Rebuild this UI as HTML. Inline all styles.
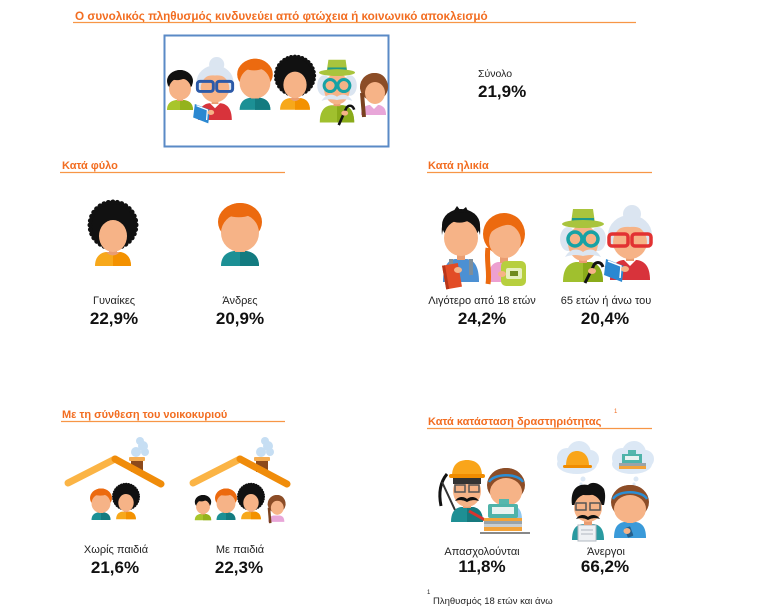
<!DOCTYPE html>
<html><head><meta charset="utf-8"><style>
html,body{margin:0;padding:0;background:#fff;}
svg{display:block;}
text{font-family:"Liberation Sans",Arial,sans-serif;}
</style></head><body>
<svg width="768" height="616" viewBox="0 0 768 616" xmlns="http://www.w3.org/2000/svg">
<rect width="768" height="616" fill="#fff"/>

<!-- Title -->
<text x="75" y="20" font-size="11.7" font-weight="bold" fill="#f26d21">Ο συνολικός πληθυσμός κινδυνεύει από φτώχεια ή κοινωνικό αποκλεισμό</text>
<line x1="73" y1="22.5" x2="636" y2="22.5" stroke="#f79646" stroke-width="1.3"/>

<rect x="164.5" y="35.5" width="224" height="111" fill="#fff" stroke="#5a8ac6" stroke-width="2"/>

<text x="478" y="77" font-size="10.5" fill="#222">Σύνολο</text>
<text x="478" y="97" font-size="17" font-weight="bold" fill="#111">21,9%</text>

<!-- Section headers -->
<text x="62" y="169" font-size="11" font-weight="bold" fill="#f26d21">Κατά φύλο</text>
<line x1="60" y1="172.5" x2="285" y2="172.5" stroke="#f79646" stroke-width="1.3"/>
<text x="428" y="169" font-size="11" font-weight="bold" fill="#f26d21">Κατά ηλικία</text>
<line x1="427" y1="172.5" x2="652" y2="172.5" stroke="#f79646" stroke-width="1.3"/>
<text x="62" y="418" font-size="11" font-weight="bold" fill="#f26d21">Με τη σύνθεση του νοικοκυριού</text>
<line x1="61" y1="421.5" x2="285" y2="421.5" stroke="#f79646" stroke-width="1.3"/>
<text x="428" y="425" font-size="11" font-weight="bold" fill="#f26d21">Κατά κατάσταση δραστηριότητας</text>
<text x="614" y="413" font-size="6" fill="#f26d21">1</text>
<line x1="427" y1="428.5" x2="652" y2="428.5" stroke="#f79646" stroke-width="1.3"/>

<!-- Labels -->
<g font-size="11" fill="#222" text-anchor="middle">
<text x="114" y="304">Γυναίκες</text>
<text x="240" y="304">Άνδρες</text>
<text x="482" y="304">Λιγότερο από 18 ετών</text>
<text x="606" y="304">65 ετών ή άνω του</text>
<text x="116" y="553">Χωρίς παιδιά</text>
<text x="240" y="553">Με παιδιά</text>
<text x="482" y="555">Απασχολούνται</text>
<text x="606" y="555">Άνεργοι</text>
</g>
<g font-size="17" font-weight="bold" fill="#111" text-anchor="middle">
<text x="114" y="324">22,9%</text>
<text x="240" y="324">20,9%</text>
<text x="482" y="324">24,2%</text>
<text x="605" y="324">20,4%</text>
<text x="115" y="573">21,6%</text>
<text x="239" y="573">22,3%</text>
<text x="482" y="572">11,8%</text>
<text x="605" y="572">66,2%</text>
</g>
<text x="427" y="594" font-size="6" fill="#222">1</text>
<text x="433" y="604" font-size="9.5" fill="#222">Πληθυσμός 18 ετών και άνω</text>

<!-- ===== Top box figures ===== -->
<g transform="translate(180,70)">
<path d="M-13 40C-13 34-10 31-4 30H4C10 31 13 34 13 40Z" fill="#a8c52b"/>
<path d="M0 30H4C10 31 13 34 13 40H0Z" fill="#94b21d"/>
<rect x="-3" y="26" width="6" height="5" fill="#e99d72"/>
<ellipse cx="0" cy="11" rx="13" ry="11" fill="#111"/>
<ellipse cx="0" cy="19" rx="11" ry="11" fill="#f6b387"/>
<path d="M-12 17C-13 5-6 0 0 0C7 0 13 5 12 17C10 11 7 9 3 9C-2 11-7 10-9 9C-11 11-12 13-12 17Z" fill="#111"/>
</g>
<g transform="translate(215,57) scale(0.84)">
<circle cx="2" cy="9" r="9" fill="#dbe5f1"/>
<ellipse cx="0" cy="30" rx="22" ry="20" fill="#dbe5f1"/>
<path d="M-20 75C-20 62-15 56-7 55H7C15 56 20 62 20 75Z" fill="#d8333b"/>
<path d="M-6 55L0 61L6 55Z" fill="#fff"/>
<rect x="-4" y="49" width="8" height="7" fill="#e99d72"/>
<ellipse cx="0" cy="37" rx="17" ry="17" fill="#f6b387"/>
<path d="M-19 33C-20 18-10 13 0 13C10 13 20 18 19 33C15 24 8 21 0 22C-8 21-15 24-19 33Z" fill="#dbe5f1"/>
<rect x="-21" y="29" width="19" height="12" rx="3" fill="none" stroke="#2c5aa8" stroke-width="3.5"/>
<rect x="2" y="29" width="19" height="12" rx="3" fill="none" stroke="#2c5aa8" stroke-width="3.5"/>
<path d="M-24 56L-6 63L-8 79L-26 72Z" fill="#2b88d1"/>
<path d="M-22 58L-9 63L-10 75" fill="none" stroke="#fff" stroke-width="1.5"/>
<ellipse cx="-5" cy="66" rx="4" ry="3" fill="#f6b387"/>
</g>
<g transform="translate(255,58) scale(0.81)">
<path d="M-19 64C-19 55-14 50-6 49H6C14 50 19 55 19 64Z" fill="#1c9095"/>
<path d="M0 49H6C14 50 19 55 19 64H0Z" fill="#137b80"/>
<rect x="-5" y="42" width="10" height="8" fill="#e99d72"/>
<ellipse cx="0" cy="20" rx="22" ry="19" fill="#ec6a0f"/>
<ellipse cx="0" cy="31" rx="19" ry="19" fill="#f6b387"/>
<path d="M-20 27C-22 8-10 1 0 1C12 1 22 8 20 27C18 18 15 14 10 13C4 16-6 16-13 13C-17 16-19 21-20 27Z" fill="#ec6a0f"/>
</g>
<g transform="translate(295,55) scale(0.83)">
<circle cx="0" cy="25" r="23" fill="#111" stroke="#111" stroke-width="5" stroke-dasharray="0.1 4.4" stroke-linecap="round"/>
<path d="M-18 66C-18 58-14 53-7 52H7C14 53 18 58 18 66Z" fill="#f7a81b"/>
<path d="M0 52H7C14 53 18 58 18 66H0Z" fill="#f39100"/>
<rect x="-4" y="46" width="8" height="7" fill="#e99d72"/>
<path d="M-7 52Q0 59 7 52Z" fill="#e99d72"/>
<ellipse cx="0" cy="36" rx="14" ry="16" fill="#f6b387"/>
</g>
<g transform="translate(337,58) scale(0.86)">
<path d="M-20 75C-20 62-15 56-7 55H7C15 56 20 62 20 75Z" fill="#a0c02e"/>
<path d="M0 55H7C15 56 20 62 20 75H0Z" fill="#8aab1a"/>
<rect x="-4" y="49" width="8" height="7" fill="#e99d72"/>
<ellipse cx="-15" cy="32" rx="8" ry="12" fill="#dbe5f1"/>
<ellipse cx="15" cy="32" rx="8" ry="12" fill="#dbe5f1"/>
<ellipse cx="0" cy="36" rx="15" ry="18" fill="#f6b387"/>
<path d="M-12 16L-10 2H10L12 16Z" fill="#a9c43d"/>
<rect x="-11" y="11" width="22" height="3" fill="#1e9a8a"/>
<ellipse cx="0" cy="17" rx="21" ry="4" fill="#a9c43d"/>
<circle cx="-8" cy="32" r="7" fill="none" stroke="#17a2a5" stroke-width="3.5"/>
<circle cx="8" cy="32" r="7" fill="none" stroke="#17a2a5" stroke-width="3.5"/>
<path d="M-18 50C-12 40-4 42 0 45C4 42 12 40 18 50C10 47 4 48 0 49C-4 48-10 47-18 50Z" fill="#dbe5f1"/>
<path d="M2 78L10 60C12 54 18 54 20 60" fill="none" stroke="#111" stroke-width="3"/>
<ellipse cx="9" cy="64" rx="4" ry="3" fill="#f6b387"/>
</g>
<g transform="translate(373,73)">
<path d="M-12 42C-12 36-9 33-4 32H6C11 33 13 36 13 42Z" fill="#e8a6d8"/>
<path d="M-3 32L1 36L5 32Z" fill="#fff"/>
<ellipse cx="1" cy="14" rx="14" ry="14" fill="#8c4d27"/>
<ellipse cx="2" cy="20" rx="10" ry="11" fill="#f6b387"/>
<path d="M-13 16C-12 5-5 0 2 0C10 0 15 6 15 16C12 10 6 8-1 9C-6 11-9 13-13 16Z" fill="#8c4d27"/>
<path d="M-11 20L-9 44" stroke="#7a4220" stroke-width="4"/>
</g>

<!-- ===== Gender ===== -->
<g transform="translate(113,200)">
<circle cx="0" cy="25" r="23" fill="#111" stroke="#111" stroke-width="5" stroke-dasharray="0.1 4.4" stroke-linecap="round"/>
<path d="M-18 66C-18 58-14 53-7 52H7C14 53 18 58 18 66Z" fill="#f7a81b"/>
<path d="M0 52H7C14 53 18 58 18 66H0Z" fill="#f39100"/>
<rect x="-4" y="46" width="8" height="7" fill="#e99d72"/>
<path d="M-7 52Q0 59 7 52Z" fill="#e99d72"/>
<ellipse cx="0" cy="36" rx="14" ry="16" fill="#f6b387"/>
</g>
<g transform="translate(240,202)">
<path d="M-19 64C-19 55-14 50-6 49H6C14 50 19 55 19 64Z" fill="#1c9095"/>
<path d="M0 49H6C14 50 19 55 19 64H0Z" fill="#137b80"/>
<rect x="-5" y="42" width="10" height="8" fill="#e99d72"/>
<ellipse cx="0" cy="20" rx="22" ry="19" fill="#ec6a0f"/>
<ellipse cx="0" cy="31" rx="19" ry="19" fill="#f6b387"/>
<path d="M-20 27C-22 8-10 1 0 1C12 1 22 8 20 27C18 18 15 14 10 13C4 16-6 16-13 13C-17 16-19 21-20 27Z" fill="#ec6a0f"/>
</g>

<!-- ===== Age ===== -->
<g transform="translate(461,208)">
<path d="M-18 74C-18 58-13 52-6 51H6C13 52 18 58 18 74Z" fill="#4c90d3"/>
<rect x="-12" y="51" width="4" height="16" fill="#7f8e99"/>
<rect x="8" y="51" width="4" height="16" fill="#7f8e99"/>
<rect x="-4" y="45" width="8" height="7" fill="#e99d72"/>
<ellipse cx="0" cy="17" rx="19" ry="16" fill="#111"/>
<ellipse cx="0" cy="30" rx="17" ry="18" fill="#f6b387"/>
<path d="M-19 27C-21 8-10 2 0 2C12 2 21 8 19 27C17 18 13 13 8 12C2 16-6 15-12 12C-16 15-18 20-19 27Z" fill="#111"/>
<path d="M-8 4L-4-2L0 3L5-1L8 5Z" fill="#111"/>
<g transform="rotate(-10 -8 68)"><rect x="-17" y="56" width="16" height="24" fill="#e24c25"/><rect x="-17" y="56" width="3" height="24" fill="#b8361a"/></g>
<ellipse cx="-3" cy="62" rx="4" ry="3" fill="#f6b387"/>
</g>
<g transform="translate(504,212)">
<path d="M-16 70C-16 56-12 51-6 50H6C12 51 16 56 16 70Z" fill="#eda0d0"/>
<rect x="-4" y="44" width="8" height="7" fill="#e99d72"/>
<ellipse cx="0" cy="22" rx="21" ry="21" fill="#ec6a0f"/>
<ellipse cx="1" cy="29" rx="16" ry="17" fill="#f6b387"/>
<path d="M-20 28C-20 8-8 2 2 2C14 2 21 10 20 26C16 16 10 12 2 13C-8 15-14 20-20 28Z" fill="#ec6a0f"/>
<path d="M-16 36C-18 48-14 60-16 72" stroke="#ec6a0f" stroke-width="5" fill="none"/>
<rect x="-3" y="49" width="25" height="25" rx="5" fill="#b7cf3e"/>
<rect x="2" y="56" width="16" height="11" rx="2" fill="#e6efbf"/>
<rect x="6" y="59" width="8" height="5" fill="#6f8a1e"/>
<ellipse cx="-2" cy="62" rx="4" ry="3" fill="#f6b387"/>
</g>
<g transform="translate(583,207)">
<path d="M-20 75C-20 62-15 56-7 55H7C15 56 20 62 20 75Z" fill="#a0c02e"/>
<path d="M0 55H7C15 56 20 62 20 75H0Z" fill="#8aab1a"/>
<rect x="-4" y="49" width="8" height="7" fill="#e99d72"/>
<ellipse cx="-15" cy="32" rx="8" ry="12" fill="#dbe5f1"/>
<ellipse cx="15" cy="32" rx="8" ry="12" fill="#dbe5f1"/>
<ellipse cx="0" cy="36" rx="15" ry="18" fill="#f6b387"/>
<path d="M-12 16L-10 2H10L12 16Z" fill="#a9c43d"/>
<rect x="-11" y="11" width="22" height="3" fill="#1e9a8a"/>
<ellipse cx="0" cy="17" rx="21" ry="4" fill="#a9c43d"/>
<circle cx="-8" cy="32" r="7" fill="none" stroke="#17a2a5" stroke-width="3.5"/>
<circle cx="8" cy="32" r="7" fill="none" stroke="#17a2a5" stroke-width="3.5"/>
<path d="M-18 50C-12 40-4 42 0 45C4 42 12 40 18 50C10 47 4 48 0 49C-4 48-10 47-18 50Z" fill="#dbe5f1"/>
<path d="M2 76L10 60C12 54 18 54 20 60" fill="none" stroke="#111" stroke-width="3"/>
<ellipse cx="9" cy="64" rx="4" ry="3" fill="#f6b387"/>
</g>
<g transform="translate(630,205)">
<circle cx="2" cy="9" r="9" fill="#dbe5f1"/>
<ellipse cx="0" cy="30" rx="22" ry="20" fill="#dbe5f1"/>
<path d="M-20 75C-20 62-15 56-7 55H7C15 56 20 62 20 75Z" fill="#d8333b"/>
<path d="M-6 55L0 61L6 55Z" fill="#fff"/>
<rect x="-4" y="49" width="8" height="7" fill="#e99d72"/>
<ellipse cx="0" cy="37" rx="17" ry="17" fill="#f6b387"/>
<path d="M-19 33C-20 18-10 13 0 13C10 13 20 18 19 33C15 24 8 21 0 22C-8 21-15 24-19 33Z" fill="#dbe5f1"/>
<rect x="-21" y="29" width="19" height="12" rx="3" fill="none" stroke="#e23232" stroke-width="3.5"/>
<rect x="2" y="29" width="19" height="12" rx="3" fill="none" stroke="#e23232" stroke-width="3.5"/>
<path d="M-24 54L-6 61L-8 77L-26 70Z" fill="#2b88d1"/>
<path d="M-22 56L-9 61L-10 73" fill="none" stroke="#fff" stroke-width="1.5"/>
<ellipse cx="-5" cy="64" rx="4" ry="3" fill="#f6b387"/>
</g>

<!-- ===== Houses ===== -->
<g>
<circle cx="136" cy="452" r="5" fill="#c6def3"/><circle cx="143" cy="446" r="5" fill="#c6def3"/><circle cx="140" cy="441" r="4" fill="#c6def3"/><circle cx="145" cy="452" r="4" fill="#c6def3"/>
<rect x="131" y="460" width="12" height="12" fill="#8c4a1c"/>
<rect x="129" y="457" width="16" height="4" rx="1" fill="#f5ad52"/>
<line x1="68" y1="483" x2="115" y2="459" stroke="#fbb445" stroke-width="7" stroke-linecap="round"/>
<line x1="115" y1="459" x2="161" y2="484" stroke="#f08c0a" stroke-width="7" stroke-linecap="round"/>
<g transform="translate(101,488) scale(0.5)">
<path d="M-19 64C-19 55-14 50-6 49H6C14 50 19 55 19 64Z" fill="#1c9095"/>
<path d="M0 49H6C14 50 19 55 19 64H0Z" fill="#137b80"/>
<rect x="-5" y="42" width="10" height="8" fill="#e99d72"/>
<ellipse cx="0" cy="20" rx="22" ry="19" fill="#ec6a0f"/>
<ellipse cx="0" cy="31" rx="19" ry="19" fill="#f6b387"/>
<path d="M-20 27C-22 8-10 1 0 1C12 1 22 8 20 27C18 18 15 14 10 13C4 16-6 16-13 13C-17 16-19 21-20 27Z" fill="#ec6a0f"/>
</g>
<g transform="translate(126,483) scale(0.55)">
<circle cx="0" cy="25" r="23" fill="#111" stroke="#111" stroke-width="5" stroke-dasharray="0.1 4.4" stroke-linecap="round"/>
<path d="M-18 66C-18 58-14 53-7 52H7C14 53 18 58 18 66Z" fill="#f7a81b"/>
<path d="M0 52H7C14 53 18 58 18 66H0Z" fill="#f39100"/>
<rect x="-4" y="46" width="8" height="7" fill="#e99d72"/>
<ellipse cx="0" cy="36" rx="14" ry="16" fill="#f6b387"/>
</g>
</g>
<g>
<circle cx="261" cy="452" r="5" fill="#c6def3"/><circle cx="268" cy="446" r="5" fill="#c6def3"/><circle cx="265" cy="441" r="4" fill="#c6def3"/><circle cx="270" cy="452" r="4" fill="#c6def3"/>
<rect x="256" y="460" width="12" height="12" fill="#8c4a1c"/>
<rect x="254" y="457" width="16" height="4" rx="1" fill="#f5ad52"/>
<line x1="193" y1="483" x2="240" y2="459" stroke="#fbb445" stroke-width="7" stroke-linecap="round"/>
<line x1="240" y1="459" x2="287" y2="484" stroke="#f08c0a" stroke-width="7" stroke-linecap="round"/>
<g transform="translate(203,495) scale(0.63)">
<path d="M-13 40C-13 34-10 31-4 30H4C10 31 13 34 13 40Z" fill="#a8c52b"/>
<path d="M0 30H4C10 31 13 34 13 40H0Z" fill="#94b21d"/>
<rect x="-3" y="26" width="6" height="5" fill="#e99d72"/>
<ellipse cx="0" cy="11" rx="13" ry="11" fill="#111"/>
<ellipse cx="0" cy="19" rx="11" ry="11" fill="#f6b387"/>
<path d="M-12 17C-13 5-6 0 0 0C7 0 13 5 12 17C10 11 7 9 3 9C-2 11-7 10-9 9C-11 11-12 13-12 17Z" fill="#111"/>
</g>
<g transform="translate(226,488) scale(0.5)">
<path d="M-19 64C-19 55-14 50-6 49H6C14 50 19 55 19 64Z" fill="#1c9095"/>
<path d="M0 49H6C14 50 19 55 19 64H0Z" fill="#137b80"/>
<rect x="-5" y="42" width="10" height="8" fill="#e99d72"/>
<ellipse cx="0" cy="20" rx="22" ry="19" fill="#ec6a0f"/>
<ellipse cx="0" cy="31" rx="19" ry="19" fill="#f6b387"/>
<path d="M-20 27C-22 8-10 1 0 1C12 1 22 8 20 27C18 18 15 14 10 13C4 16-6 16-13 13C-17 16-19 21-20 27Z" fill="#ec6a0f"/>
</g>
<g transform="translate(251,483) scale(0.55)">
<circle cx="0" cy="25" r="23" fill="#111" stroke="#111" stroke-width="5" stroke-dasharray="0.1 4.4" stroke-linecap="round"/>
<path d="M-18 66C-18 58-14 53-7 52H7C14 53 18 58 18 66Z" fill="#f7a81b"/>
<path d="M0 52H7C14 53 18 58 18 66H0Z" fill="#f39100"/>
<rect x="-4" y="46" width="8" height="7" fill="#e99d72"/>
<ellipse cx="0" cy="36" rx="14" ry="16" fill="#f6b387"/>
</g>
<g transform="translate(276,495) scale(0.64)">
<path d="M-12 42C-12 36-9 33-4 32H6C11 33 13 36 13 42Z" fill="#e8a6d8"/>
<ellipse cx="1" cy="14" rx="14" ry="14" fill="#8c4d27"/>
<ellipse cx="2" cy="20" rx="10" ry="11" fill="#f6b387"/>
<path d="M-13 16C-12 5-5 0 2 0C10 0 15 6 15 16C12 10 6 8-1 9C-6 11-9 13-13 16Z" fill="#8c4d27"/>
<path d="M-11 20L-9 44" stroke="#7a4220" stroke-width="4"/>
</g>
</g>

<!-- ===== Activity ===== -->
<g transform="translate(467,460)">
<path d="M-20 14Q-30 26-26 46" fill="none" stroke="#111" stroke-width="3"/>
<line x1="-25" y1="22" x2="-12" y2="50" stroke="#333" stroke-width="2"/>
<path d="M-16 62C-16 52-12 48-6 47H6C12 48 16 52 16 62Z" fill="#1e8f94"/>
<path d="M0 47H6C12 48 16 52 16 62H0Z" fill="#16797e"/>
<rect x="-4" y="42" width="8" height="6" fill="#e99d72"/>
<ellipse cx="0" cy="31" rx="14" ry="16" fill="#f6b387"/>
<rect x="-14" y="17" width="28" height="7" fill="#333"/>
<path d="M-15 16C-15 4-8 0 0 0C8 0 15 4 15 16Z" fill="#f9a51a"/>
<rect x="-18" y="14" width="36" height="4" rx="2" fill="#f08c00"/>
<rect x="-12" y="25" width="10" height="7" fill="none" stroke="#555" stroke-width="1.5"/>
<rect x="2" y="25" width="10" height="7" fill="none" stroke="#555" stroke-width="1.5"/>
<path d="M-12 41C-8 35-2 37 0 39C2 37 8 35 12 41C6 39 2 41 0 42C-2 41-6 39-12 41Z" fill="#111"/>
<line x1="2" y1="51" x2="18" y2="60" stroke="#d8332f" stroke-width="3"/>
</g>
<g transform="translate(506,468)">
<path d="M-16 52C-16 42-12 38-6 37H6C12 38 16 42 16 52Z" fill="#8fc8ef"/>
<ellipse cx="0" cy="17" rx="19" ry="17" fill="#8c4d27"/>
<ellipse cx="0" cy="24" rx="16" ry="14" fill="#f6b387"/>
<path d="M-18 18C-18 4-8 0 0 0C8 0 18 4 18 18C14 10 8 8 0 8C-8 8-14 10-18 18Z" fill="#8c4d27"/>
<path d="M-17 14C-12 5 12 5 17 14" stroke="#2b8ed5" stroke-width="2.5" fill="none"/>
<rect x="-7" y="31" width="10" height="6" fill="#55b7ad"/>
<rect x="-18" y="36" width="30" height="14" rx="2" fill="#4fb3a9"/>
<rect x="-14" y="39" width="22" height="7" fill="#e9f3f1"/>
<rect x="-22" y="50" width="38" height="3" fill="#f3a33a"/>
<rect x="-22" y="53" width="38" height="3" fill="#9aa3a8"/>
<rect x="-22" y="56" width="38" height="3" fill="#c8ced2"/>
<rect x="-22" y="59" width="38" height="4" fill="#f3a33a"/>
<line x1="-26" y1="65" x2="24" y2="65" stroke="#888" stroke-width="2"/>
</g>
<g fill="#dce8f5">
<ellipse cx="577" cy="464" rx="20" ry="10"/><circle cx="567" cy="458" r="10"/><circle cx="579" cy="453" r="12"/><circle cx="590" cy="459" r="9"/>
<circle cx="583" cy="479" r="2.5"/><circle cx="581" cy="484" r="1.5"/>
<ellipse cx="632" cy="464" rx="20" ry="10"/><circle cx="622" cy="458" r="10"/><circle cx="634" cy="453" r="12"/><circle cx="645" cy="459" r="9"/>
<circle cx="636" cy="479" r="2.5"/><circle cx="634" cy="484" r="1.5"/>
</g>
<path d="M566 466C566 455 571 451 577 451C583 451 589 455 589 466Z" fill="#f9a51a"/>
<rect x="563" y="465" width="29" height="3" rx="1.5" fill="#f08c00"/>
<rect x="628" y="450" width="8" height="4" fill="#55b7ad"/>
<rect x="622" y="454" width="20" height="9" fill="#4fb3a9"/>
<rect x="625" y="456" width="14" height="4" fill="#e9f3f1"/>
<rect x="619" y="463" width="27" height="3" fill="#9aa3a8"/>
<rect x="619" y="466" width="27" height="3" fill="#f3a33a"/>
<g transform="translate(588,483)">
<path d="M-16 57C-16 46-12 42-6 41H6C12 42 16 46 16 57Z" fill="#2a9aa0"/>
<rect x="-10" y="42" width="18" height="16" fill="#eef1f4" stroke="#b0b8c0" stroke-width="1"/>
<line x1="-7" y1="47" x2="5" y2="47" stroke="#b0b8c0"/><line x1="-7" y1="51" x2="5" y2="51" stroke="#b0b8c0"/>
<rect x="-4" y="36" width="8" height="6" fill="#e99d72"/>
<path d="M-16 22C-18 6-10 0 0 2C4-2 12 0 16 6C18 12 17 18 16 22Z" fill="#111"/>
<ellipse cx="0" cy="25" rx="14" ry="14" fill="#f6b387"/>
<path d="M-15 20C-15 8-8 3 0 4C6 1 14 5 15 20C12 14 10 12 8 11C2 13-8 12-12 11C-14 14-15 17-15 20Z" fill="#111"/>
<rect x="-12" y="20" width="10" height="7" fill="none" stroke="#555" stroke-width="1.5"/>
<rect x="2" y="20" width="10" height="7" fill="none" stroke="#555" stroke-width="1.5"/>
<path d="M-12 36C-8 30-2 32 0 34C2 32 8 30 12 36C6 34 2 36 0 37C-2 36-6 34-12 36Z" fill="#111"/>
</g>
<g transform="translate(630,485)">
<path d="M-16 53C-16 42-12 38-6 37H6C12 38 16 42 16 53Z" fill="#3a9ad9"/>
<rect x="-3" y="32" width="6" height="6" fill="#e99d72"/>
<ellipse cx="0" cy="17" rx="19" ry="17" fill="#8c4d27"/>
<ellipse cx="0" cy="24" rx="16" ry="14" fill="#f6b387"/>
<path d="M-18 18C-18 4-8 0 0 0C8 0 18 4 18 18C14 10 8 8 0 8C-8 8-14 10-18 18Z" fill="#8c4d27"/>
<path d="M-17 14C-12 5 12 5 17 14" stroke="#2b8ed5" stroke-width="2.5" fill="none"/>
<rect x="-4" y="42" width="6" height="10" rx="1" fill="#235f8c" transform="rotate(-20 -1 47)"/>
<ellipse cx="-3" cy="46" rx="3.5" ry="3" fill="#f6b387"/>
</g>
</svg>
</body></html>
